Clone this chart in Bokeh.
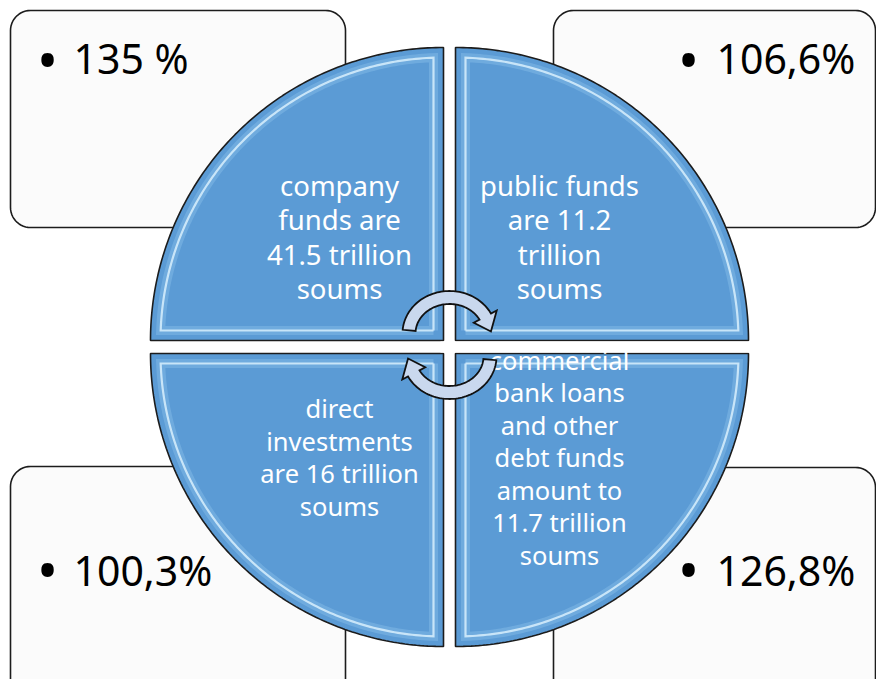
import numpy as np
from bokeh.plotting import figure
from bokeh.models import Range1d, ColumnDataSource
from bokeh.core.properties import value
from bokeh.embed import file_html
from bokeh.resources import INLINE

# ---------------- data ----------------
percent_labels = ["135 %", "106,6%", "100,3%", "126,8%"]      # TL, TR, BL, BR
quadrant_lines = [
    ["company", "funds are", "41.5 trillion", "soums"],
    ["public funds", "are 11.2", "trillion", "soums"],
    ["direct", "investments", "are 16 trillion", "soums"],
    ["commercial", "bank loans", "and other", "debt funds", "amount to", "11.7 trillion", "soums"],
]

# ---------------- layout ----------------
W, H, OFF = 876, 679, 0
FONT = "Noto Sans"
BLUE = "#5b9bd5"
EDGE = "#1c1c1c"

p = figure(width=W, height=H, output_backend="svg", toolbar_location=None,
           x_range=Range1d(OFF, OFF + W), y_range=Range1d(OFF + H, OFF),
           x_axis_type=None, y_axis_type=None, min_border=0,
           background_fill_color="white", border_fill_color="white")
p.outline_line_color = None

# quadrant geometry
CX, CY, R = 449.0, 346.5, 293.0
GX, GY = 6.0, 6.5
signs = [(-1, -1), (1, -1), (-1, 1), (1, 1)]  # TL, TR, BL, BR (y down)
corners = [(CX + sx * GX, CY + sy * GY) for sx, sy in signs]

# boxes
BOX_R = 20
boxes = [(10, 10, 345, 227), (553, 10, 875, 227), (10, 466, 345, 720), (553, 467, 875, 720)]


def rounded_rect(x0, y0, x1, y1, r, n=14):
    xs, ys = [], []
    for cx, cy, a0, a1 in [(x1 - r, y0 + r, -90, 0), (x1 - r, y1 - r, 0, 90),
                           (x0 + r, y1 - r, 90, 180), (x0 + r, y0 + r, 180, 270)]:
        t = np.radians(np.linspace(a0, a1, n))
        xs += list(cx + r * np.cos(t))
        ys += list(cy + r * np.sin(t))
    return xs, ys


bxs, bys = zip(*[rounded_rect(*b, BOX_R) for b in boxes])
p.patches(list(bxs), list(bys), fill_color="#fbfbfb", line_color=EDGE, line_width=1.6)

# quadrants
qxs, qys = [], []
ixs, iys = [], []
t = np.radians(np.linspace(0, 90, 120))
d = 10.0
t0 = np.arcsin(d / (R - d))
ti = np.linspace(t0, np.pi / 2 - t0, 120)
for (sx, sy), (ox, oy) in zip(signs, corners):
    qxs.append([ox] + list(ox + sx * R * np.cos(t)))
    qys.append([oy] + list(oy + sy * R * np.sin(t)))
    ixs.append([ox + sx * d] + list(ox + sx * (R - d) * np.cos(ti)) + [ox + sx * d])
    iys.append([oy + sy * d] + list(oy + sy * (R - d) * np.sin(ti)) + [oy + sy * d])

p.patches(qxs, qys, fill_color=BLUE, line_color=EDGE, line_width=1.6)
# bevel highlight
p.multi_line(ixs, iys, line_color="#9fd0f5", line_width=9, line_alpha=0.3, line_join="miter")
p.multi_line(ixs, iys, line_color="#d8effd", line_width=2.2, line_alpha=0.85, line_join="miter")

# quadrant texts
sizes = [27.5, 27.5, 25.5, 25.5]
spacing = [34.5, 34.5, 32.5, 32.5]
OFFS = 104.0
for (sx, sy), (ox, oy), lines, fs, sp in zip(signs, corners, quadrant_lines, sizes, spacing):
    cxq = ox + sx * OFFS
    cyq = oy + sy * 103.5
    n = len(lines)
    ys_l = [cyq + (i - (n - 1) / 2) * sp for i in range(n)]
    src = ColumnDataSource(dict(x=[cxq] * n, y=ys_l, text=lines))
    p.text(x="x", y="y", text="text", source=src, text_color="white",
           text_font=value(FONT), text_font_size=value(f"{fs}px"),
           text_align="center", text_baseline="middle")

# white gap strip (clips text running into the gap)
p.patch([440, 760, 760, 440], [CY - GY + 0.9, CY - GY + 0.9, CY + GY - 0.9, CY + GY - 0.9],
        fill_color="white", line_color=None)

# circular arrows
RXM, RYM, HW, HWH = 40.5, 36.0, 6.5, 13.0
T_TAIL, T_BASE, T_TIP = 175.0, 28.0, 3.0


def arrow(cx, cy, rot):
    s = 1 if rot == 0 else -1

    def pt(tdeg, roff):
        tt = np.radians(tdeg)
        return cx + s * (RXM + roff) * np.cos(tt), cy - s * (RYM + roff) * np.sin(tt)

    pts = [pt(a, HW) for a in np.linspace(T_TAIL, T_BASE, 60)]
    pts += [pt(T_BASE, HWH), pt(T_TIP, 1.0), pt(T_BASE, -HWH)]
    pts += [pt(a, -HW) for a in np.linspace(T_BASE, T_TAIL, 60)]
    xs, ys = zip(*pts)
    return list(xs), list(ys)


a1 = arrow(449.0, 333.0, 0)
a2 = arrow(449.0, 356.0, 180)
p.patches([a1[0], a2[0]], [a1[1], a2[1]], fill_color="#c9d8ee", line_color="#111111",
          line_width=1.8, line_join="miter")

# percent labels
bullet_x = [47, 688, 47, 688]
bullet_y = [58, 58, 568, 568]
text_x = [73, 716, 73, 716]
mid_y = [57, 57, 569, 569]
p.text(x=bullet_x, y=bullet_y, text=["•"] * 4, text_color="black",
       text_font=value(FONT), text_font_size=value("56px"),
       text_align="center", text_baseline="middle")
p.text(x=text_x, y=mid_y, text=percent_labels, text_color="black",
       text_font=value(FONT), text_font_size=value("41px"),
       text_align="left", text_baseline="middle")

open("out.html", "w").write(file_html(p, INLINE))
